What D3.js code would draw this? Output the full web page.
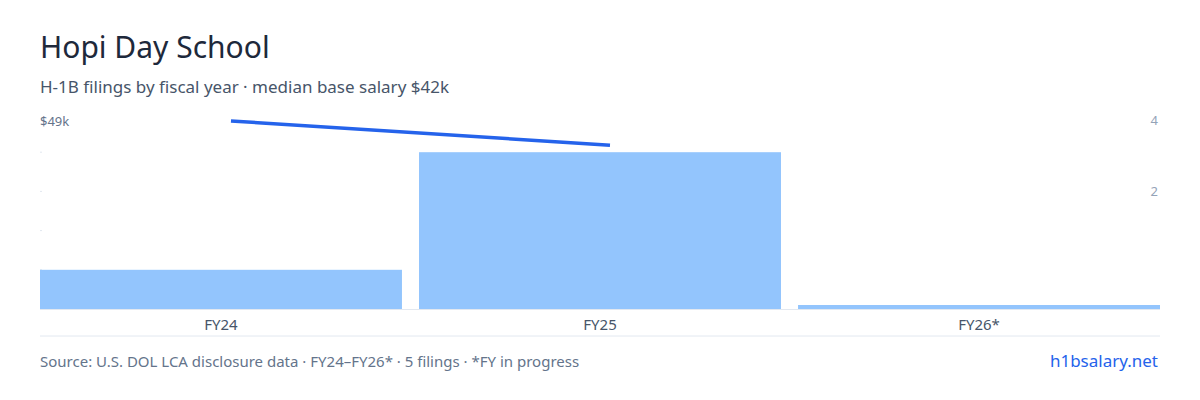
<!DOCTYPE html><html><head><meta charset="utf-8"><script src="https://cdn.jsdelivr.net/npm/d3@7"></script>
<style>body{margin:0;background:#fff;font-family:"Noto Sans",sans-serif}</style></head><body><svg id="c" width="1200" height="400"></svg>
<script>
const categories=["FY24","FY25","FY26*"];
const filings=[1,4,0];
const salaryK=[49,42.7,null];
const countTicks=[4,2];
const svg=d3.select("#c");
const F='"Noto Sans",sans-serif';
svg.append("text").attr("x",40).attr("y",58).attr("font-size",30).attr("fill","#1e293b").attr("font-family",F).text("Hopi Day School");
svg.append("text").attr("x",40).attr("y",93).attr("font-size",17).attr("fill","#475569").attr("font-family",F).text("H-1B filings by fiscal year · median base salary $42k");
const x=d3.scaleBand().domain(categories).range([40,1160]).paddingInner(0.045).paddingOuter(0);
const bottom=309;
const y=d3.scaleLinear().domain([0,5]).range([bottom,113]);
[1,2,3,4].forEach(v=>svg.append("line").attr("x1",40).attr("x2",42).attr("y1",y(v)).attr("y2",y(v)).attr("stroke","#e2e8f0"));
svg.selectAll("rect.b").data(filings).join("rect").attr("x",(d,i)=>x(categories[i])).attr("width",x.bandwidth())
 .attr("y",d=>Math.min(y(d),bottom-4)).attr("height",d=>Math.max(bottom-y(d),4)).attr("fill","#93c5fd");
const ys=d3.scaleLinear().domain([0,49]).range([bottom,121]);
const pts=salaryK.map((v,i)=>[x(categories[i])+x.bandwidth()/2+10,v]).filter(p=>p[1]!=null);
svg.append("path").attr("d",d3.line().x(p=>p[0]).y(p=>ys(p[1]))(pts)).attr("stroke","#2563eb").attr("stroke-width",3.5).attr("fill","none");
svg.append("text").attr("x",40).attr("y",126).attr("font-size",13).attr("fill","#64748b").attr("font-family",F).text("$49k");
const yr=d3.scaleLinear().domain([0,4]).range([262,120]);
countTicks.forEach(t=>svg.append("text").attr("x",1158).attr("y",yr(t)+5).attr("text-anchor","end").attr("font-size",13).attr("fill","#94a3b8").attr("font-family",F).text(t));
const ax=svg.append("g").attr("transform",`translate(0,${bottom})`).call(d3.axisBottom(x).tickSize(0).tickPadding(10));
ax.select(".domain").attr("stroke","#e2e8f0").attr("d","M40,0.5H1160");
ax.selectAll("text").attr("font-size",15).attr("fill","#475569").attr("font-family",F);
svg.append("line").attr("x1",40).attr("x2",1160).attr("y1",336).attr("y2",336).attr("stroke","#e2e8f0");
svg.append("text").attr("x",40).attr("y",367).attr("font-size",15).attr("fill","#64748b").attr("font-family",F).text("Source: U.S. DOL LCA disclosure data · FY24–FY26* · 5 filings · *FY in progress");
svg.append("text").attr("x",1158).attr("y",367).attr("text-anchor","end").attr("font-size",17).attr("fill","#2563eb").attr("font-family",F).text("h1bsalary.net");
</script></body></html>
